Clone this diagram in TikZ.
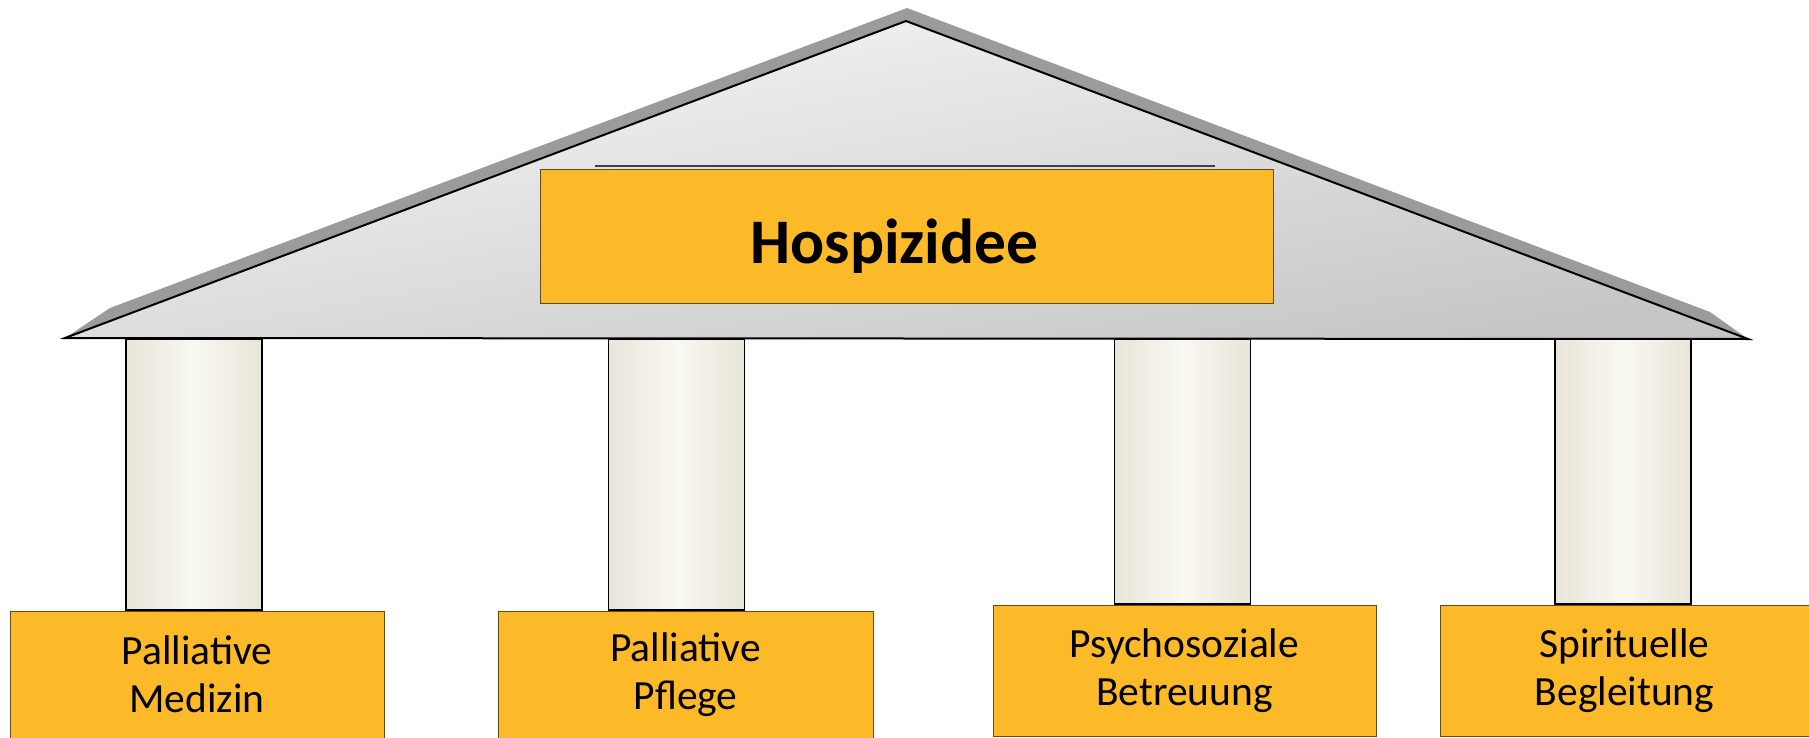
\documentclass[tikz,border=0pt]{standalone}
\usepackage{fontspec}
\setmainfont{Carlito}
\usepackage{tikz}
\usepackage{xcolor}
\usetikzlibrary{shapes,positioning}
\definecolor{pillarorange}{RGB}{252,185,40}
\definecolor{pillaredge}{RGB}{100,75,20}
\definecolor{roofshadow}{RGB}{155,155,155}
\definecolor{stone}{RGB}{232,229,217}
\definecolor{stonelight}{RGB}{249,248,242}
\tikzstyle{pillarbox} = [rectangle, draw=pillaredge, fill=pillarorange, line width=1pt,
    minimum width=374pt, minimum height=127pt, inner sep=0pt, align=center,
    font=\fontsize{41.5}{48}\selectfont]
\tikzstyle{column} = [rectangle, draw, line width=1.5pt, left color=stone,
    right color=stone, middle color=stonelight, minimum width=136pt, inner sep=0pt]
\tikzset{
  roofline/.style={draw=black, line width=2pt, line join=miter},
	}

\begin{document}
\begin{tikzpicture}[x=1pt, y=-1pt, align=center, auto]
    \useasboundingbox (0,0) rectangle (1809,738);
    % roof
    \fill[roofshadow] (65,338) -- (110,308) -- (907,8) -- (1710,312) -- (1748,339) -- cycle;
    \draw[roofline, top color=gray!6, bottom color=gray!45, shading angle=10] (65,338) -- (906,21) -- (1748,339) -- cycle;
    \draw[line width=2.5pt, black!75] (595,166) -- (1215,166);
    \node[pillarbox, minimum width=733pt, minimum height=133pt, text height=53pt, text depth=0pt,
      font=\fontsize{63.5}{70}\selectfont\bfseries](idea) at (906.5,236.5){\kern-24pt Hospizidee};
    % columns
    \node[column, anchor=north, minimum height=271pt](pillar1) at (194,338){};
    \node[column, anchor=north, minimum height=271pt](pillar2) at (676.5,338){};
    \node[column, anchor=north, minimum height=265pt](pillar3) at (1182.5,338){};
    \node[column, anchor=north, minimum height=265pt](pillar4) at (1623,338){};
    % bases
    \node[pillarbox, below=0pt of pillar1, xshift=3pt](medizin){Palliative\\Medizin};
    \node[pillarbox, below=0pt of pillar2, xshift=9pt, minimum width=375pt](pflege){Palliative\\Pflege};
    \node[pillarbox, below=0pt of pillar3, xshift=2pt, minimum width=383pt, minimum height=131pt](psycho){Psychosoziale\\Betreuung};
    \node[pillarbox, below=0pt of pillar4, xshift=1.5pt, minimum width=369pt, minimum height=131pt](spirit){Spirituelle\\Begleitung};
  \end{tikzpicture}
\end{document}
